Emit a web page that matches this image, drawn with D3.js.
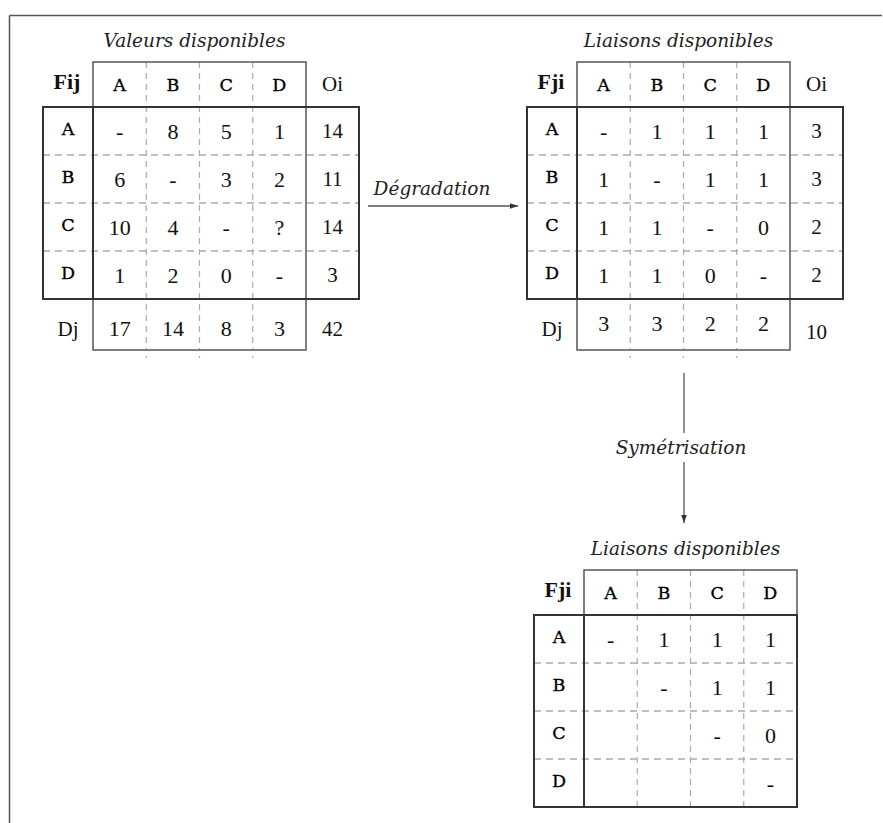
<!DOCTYPE html>
<html><head><meta charset="utf-8">
<script src="https://cdn.jsdelivr.net/npm/d3@7"></script>
<style>
html,body{margin:0;padding:0;background:#fff;}
svg{display:block;}
</style>
</head><body>
<script>
// ---- data ----
const categories = ["A", "B", "C", "D"];
const values = [["-", "8", "5", "1"], ["6", "-", "3", "2"], ["10", "4", "-", "?"], ["1", "2", "0", "-"]];
const valuesOi = ["14", "11", "14", "3"];
const valuesDj = ["17", "14", "8", "3"];
const valuesTotal = "42";
const links = [["-", "1", "1", "1"], ["1", "-", "1", "1"], ["1", "1", "-", "0"], ["1", "1", "0", "-"]];
const linksOi = ["3", "3", "2", "2"];
const linksDj = ["3", "3", "2", "2"];
const linksTotal = "10";
const symLinks = [["-", "1", "1", "1"], ["", "-", "1", "1"], ["", "", "-", "0"], ["", "", "", "-"]];
const titles = ["Valeurs disponibles", "Liaisons disponibles", "Liaisons disponibles"];
const corner = ["Fij", "Fji", "Fji"];
const arrowLabels = ["Dégradation", "Symétrisation"];

const W = 883, H = 823;
const svg = d3.select("body").append("svg").attr("width", W).attr("height", H);

svg.append("defs").append("marker")
  .attr("id", "arr").attr("viewBox", "0 0 10 10").attr("refX", 10).attr("refY", 5)
  .attr("markerWidth", 10).attr("markerHeight", 8).attr("markerUnits", "userSpaceOnUse")
  .attr("orient", "auto")
  .append("path").attr("d", "M0,1.5 L10,5 L0,8.5 Z").attr("fill", "#333");

// frame (top and left edges only)
svg.append("line").attr("x1", 9.5).attr("y1", 15.5).attr("x2", 882).attr("y2", 15.5).attr("stroke", "#555").attr("stroke-width", 1.5);
svg.append("line").attr("x1", 9.5).attr("y1", 15.5).attr("x2", 9.5).attr("y2", 823).attr("stroke", "#555").attr("stroke-width", 1.5);

const SERIF = "'Liberation Serif', 'DejaVu Serif', serif";
const LETTER = "'DejaVu Serif', serif";
const DASH = "#aaa";
const TXT = "#111";

function drawTable(opt) {
  const g = svg.append("g");
  const labW = 50, colsW = 213, oiW = opt.oi ? 53 : 0, headH = 45, rowsH = 192, djH = opt.dj ? 51 : 0;
  const x0 = opt.x, y0 = opt.y;
  const xc0 = x0 + labW, xc1 = xc0 + colsW;
  const yr0 = y0 + headH, yr1 = yr0 + rowsH;
  const x = d3.scaleBand().domain(categories).range([xc0, xc1]);
  const y = d3.scaleBand().domain(categories).range([yr0, yr1]);
  const bottom = yr1 + djH;
  const rightRows = xc1 + oiW;

  // dashed row dividers
  categories.slice(1).forEach(c => {
    g.append("line").attr("x1", x0).attr("x2", rightRows).attr("y1", y(c)).attr("y2", y(c))
      .attr("stroke", DASH).attr("stroke-width", 1.3).attr("stroke-dasharray", "7,5");
  });
  // dashed column dividers
  categories.slice(1).forEach(c => {
    g.append("line").attr("x1", x(c)).attr("x2", x(c)).attr("y1", y0).attr("y2", bottom)
      .attr("stroke", DASH).attr("stroke-width", 1.2).attr("stroke-dasharray", "6,5");
    if (opt.dj) {
      g.append("line").attr("x1", x(c)).attr("x2", x(c)).attr("y1", bottom + 6).attr("y2", bottom + 8)
        .attr("stroke", DASH).attr("stroke-width", 1.2);
    }
  });
  // column box (thin)
  g.append("rect").attr("x", xc0).attr("y", y0).attr("width", colsW).attr("height", bottom - y0)
    .attr("fill", "none").attr("stroke", "#555").attr("stroke-width", 1.5);
  // row box (thick)
  g.append("rect").attr("x", x0).attr("y", yr0).attr("width", rightRows - x0).attr("height", rowsH)
    .attr("fill", "none").attr("stroke", "#333").attr("stroke-width", 2);
  g.append("line").attr("x1", xc0).attr("x2", xc0).attr("y1", yr0).attr("y2", yr1)
    .attr("stroke", "#333").attr("stroke-width", 2);

  // title
  g.append("text").attr("x", (xc0 + xc1) / 2 - 5).attr("y", y0 - 15).attr("text-anchor", "middle")
    .attr("font-family", LETTER).attr("font-style", "italic").attr("font-size", 18.5).attr("fill", "#222")
    .text(opt.title);
  // corner
  g.append("text").attr("x", x0 + labW / 2 - 1).attr("y", y0 + 19).attr("dy", "0.35em").attr("text-anchor", "middle")
    .attr("font-family", SERIF).attr("font-weight", "bold").attr("font-size", 22).attr("fill", TXT)
    .text(opt.corner);
  // column headers
  g.selectAll(".ch").data(categories).enter().append("text")
    .attr("x", d => x(d) + x.bandwidth() / 2).attr("y", y0 + headH / 2).attr("dy", "0.35em")
    .attr("text-anchor", "middle").attr("font-family", LETTER).attr("font-size", 17.5).attr("fill", "#000")
    .attr("stroke", "#000").attr("stroke-width", 0.35)
    .text(d => d);
  // row headers
  g.selectAll(".rh").data(categories).enter().append("text")
    .attr("x", x0 + labW / 2).attr("y", d => y(d) + y.bandwidth() / 2 - 2).attr("dy", "0.35em")
    .attr("text-anchor", "middle").attr("font-family", LETTER).attr("font-size", 17.5).attr("fill", "#000")
    .attr("stroke", "#000").attr("stroke-width", 0.35)
    .text(d => d);
  // cells
  opt.cells.forEach((row, i) => {
    row.forEach((v, j) => {
      g.append("text").attr("x", x(categories[j]) + x.bandwidth() / 2)
        .attr("y", y(categories[i]) + y.bandwidth() / 2).attr("dy", "0.35em")
        .attr("text-anchor", "middle").attr("font-family", SERIF).attr("font-size", 22).attr("fill", TXT)
        .text(v);
    });
  });
  if (opt.oi) {
    const xo = xc1 + oiW / 2;
    g.append("text").attr("x", xo).attr("y", y0 + headH / 2 - 1).attr("dy", "0.35em").attr("text-anchor", "middle")
      .attr("font-family", SERIF).attr("font-size", 21).attr("fill", TXT).text("Oi");
    opt.oi.forEach((v, i) => {
      g.append("text").attr("x", xo).attr("y", y(categories[i]) + y.bandwidth() / 2).attr("dy", "0.35em")
        .attr("text-anchor", "middle").attr("font-family", SERIF).attr("font-size", 21).attr("fill", TXT).text(v);
    });
  }
  if (opt.dj) {
    const yd = yr1 + djH / 2 + 4;
    g.append("text").attr("x", x0 + labW / 2).attr("y", yd).attr("dy", "0.35em").attr("text-anchor", "middle")
      .attr("font-family", SERIF).attr("font-size", 21).attr("fill", TXT).text("Dj");
    opt.dj.forEach((v, j) => {
      g.append("text").attr("x", x(categories[j]) + x.bandwidth() / 2).attr("y", yd + opt.djShift).attr("dy", "0.35em")
        .attr("text-anchor", "middle").attr("font-family", SERIF).attr("font-size", 22).attr("fill", TXT).text(v);
    });
    g.append("text").attr("x", xc1 + oiW / 2).attr("y", yd + opt.totShift).attr("dy", "0.35em")
      .attr("text-anchor", "middle").attr("font-family", SERIF).attr("font-size", 21).attr("fill", TXT).text(opt.total);
  }
}

drawTable({ x: 43, y: 62, title: titles[0], corner: corner[0], cells: values, oi: valuesOi, dj: valuesDj, total: valuesTotal, djShift: 0, totShift: 0 });
drawTable({ x: 527, y: 62, title: titles[1], corner: corner[1], cells: links, oi: linksOi, dj: linksDj, total: linksTotal, djShift: -5, totShift: 3 });
drawTable({ x: 534, y: 570, title: titles[2], corner: corner[2], cells: symLinks, oi: null, dj: null });

// Dégradation arrow
svg.append("line").attr("x1", 368).attr("y1", 206).attr("x2", 518).attr("y2", 206)
  .attr("stroke", "#555").attr("stroke-width", 1.3).attr("marker-end", "url(#arr)");
svg.append("text").attr("x", 432).attr("y", 195).attr("text-anchor", "middle")
  .attr("font-family", LETTER).attr("font-style", "italic").attr("font-size", 18.5).attr("fill", "#222")
  .text(arrowLabels[0]);

// Symétrisation arrow
svg.append("line").attr("x1", 684).attr("y1", 373).attr("x2", 684).attr("y2", 433)
  .attr("stroke", "#555").attr("stroke-width", 1.3);
svg.append("line").attr("x1", 684).attr("y1", 462).attr("x2", 684).attr("y2", 523)
  .attr("stroke", "#555").attr("stroke-width", 1.3).attr("marker-end", "url(#arr)");
svg.append("text").attr("x", 681).attr("y", 454).attr("text-anchor", "middle")
  .attr("font-family", LETTER).attr("font-style", "italic").attr("font-size", 18.5).attr("fill", "#222")
  .text(arrowLabels[1]);
</script>
</body></html>
